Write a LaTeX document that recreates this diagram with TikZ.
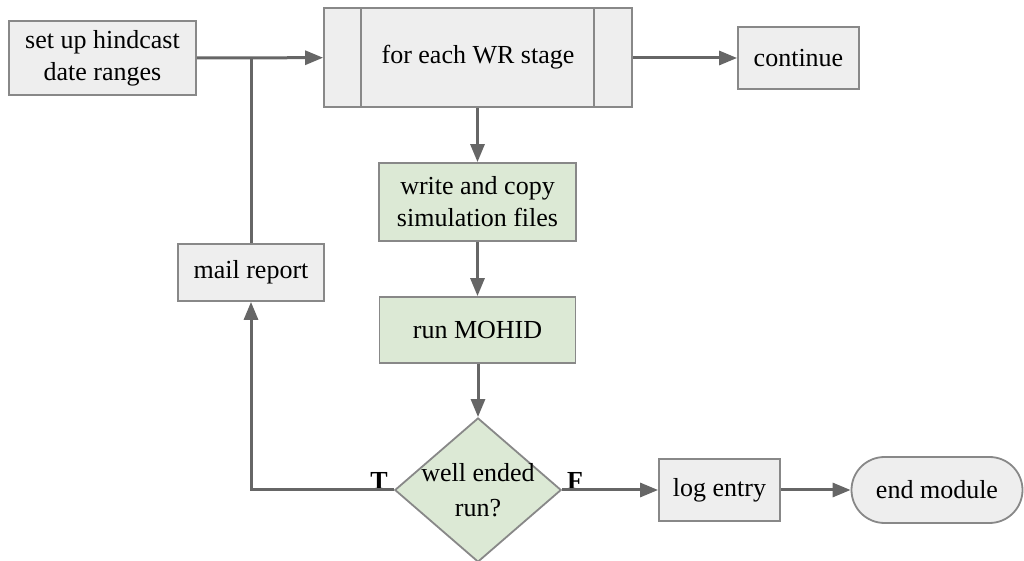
\documentclass[tikz,border=0pt]{standalone}
\usepackage{fontspec}
\setmainfont{Liberation Serif}
\usetikzlibrary{arrows.meta,shapes,positioning}

\definecolor{boxgray}{HTML}{EEEEEE}
\definecolor{boxgreen}{HTML}{DCE9D5}
\definecolor{edgegray}{HTML}{888888}
\definecolor{linegray}{HTML}{666666}

\begin{document}
\begin{tikzpicture}[x=0.5pt,y=-0.5pt,
    every node/.style={font=\fontsize{13}{16}\selectfont},
    box/.style={draw=edgegray, line width=0.9pt, fill=boxgray, inner sep=0pt, align=center},
    simbox/.style={box, fill=boxgreen},
    decide/.style={diamond, aspect=1.155, draw=edgegray, line width=0.9pt, fill=boxgreen, inner sep=-1pt, align=center},
    flow/.style={draw=linegray, line width=1.5pt},
    tip/.style={flow, -{Triangle[length=9pt,width=7pt]}}]
           \useasboundingbox (0,0) rectangle (1024,561);
           \node [box, minimum width=93.5pt, minimum height=37pt] (setup) at (102.5,58) {set up hindcast\\date ranges};
           \node [box, minimum width=154pt, minimum height=49.5pt] (stage) at (478,57.5) {for each WR stage};
           \draw [draw=edgegray, line width=0.9pt] ([xshift=19pt]stage.north west) -- ([xshift=19pt]stage.south west);
           \draw [draw=edgegray, line width=0.9pt] ([xshift=-19.5pt]stage.north east) -- ([xshift=-19.5pt]stage.south east);
           \node [box, minimum width=60.5pt, minimum height=31pt] (cont) at (798.5,58) {continue};
           \node [simbox, minimum width=98.5pt, minimum height=39pt] (files) at (477.5,202) {write and copy\\simulation files};
           \node [simbox, minimum width=98pt, minimum height=33pt] (mohid) at (477.5,330) {run MOHID};
           \node [decide, minimum width=82pt, minimum height=71pt] (ended) at (478,490) {well ended\\[1.5pt]run?};
           \node [box, minimum width=73pt, minimum height=28.5pt] (mail) at (251,272.5) {mail report};
           \node [box, minimum width=60.5pt, minimum height=31pt] (log) at (719.5,490) {log entry};
           \node [box, rounded rectangle, minimum width=85.5pt, minimum height=33pt] (endmod) at (937,490) {end module};
           \node (tlab) at (379,481) {\textbf{T}};
           \node (flab) at (575,481) {\textbf{F}};
           \coordinate (join) at (mail.north |- setup.east);
           \draw [tip] (setup) -- (stage);
           \draw [flow] (mail) -- (join);
           \draw [tip] (stage.east |- cont.west) -- (cont);
           \draw [tip] (stage.south -| files.north) -- (files);
           \draw [tip] (files) -- (mohid);
           \draw [tip] (mohid.south -| ended.north) -- (ended);
           \draw [tip] (ended.west) -| (mail.south);
           \draw [tip] (ended) -- (log);
           \draw [tip] (log) -- (endmod);
      \end{tikzpicture}
\end{document}
